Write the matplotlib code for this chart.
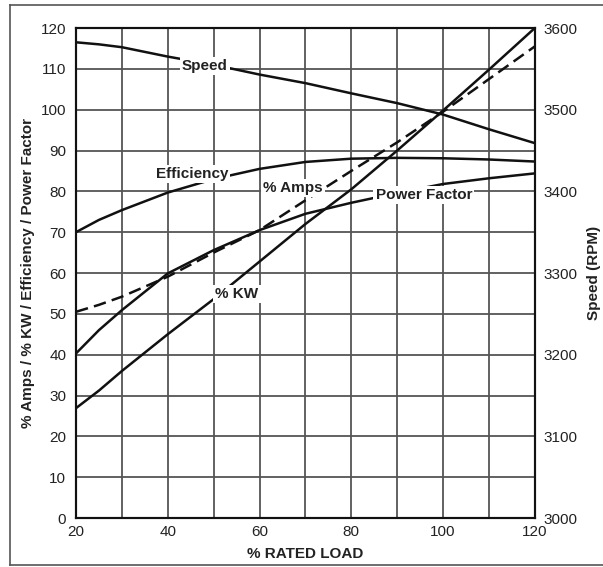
import matplotlib
matplotlib.use("Agg")
import matplotlib.pyplot as plt
from matplotlib.lines import Line2D

plt.rcParams["font.family"] = ["Liberation Sans", "DejaVu Sans"]

# % rated load
load = [20, 25, 30, 40, 50, 60, 70, 80, 90, 100, 110, 120]

# left axis curves (percent)
efficiency = [70, 73, 75.4, 79.7, 83, 85.5, 87.2, 88, 88.2, 88.1, 87.8, 87.3]
amps = [50.5, 52.2, 54.2, 59.1, 65, 70.5, 77.8, 85, 92, 99.5, 107.5, 115.5]
power_factor = [40.3, 46, 50.9, 59.9, 65.6, 70.5, 74.5, 77.2, 79.6, 81.8, 83.2, 84.4]
kw = [26.9, 31.2, 36, 45, 53.6, 62.8, 72, 80.5, 90, 99.8, 109.8, 120]

# right axis curve (RPM)
speed = [3582.5, 3580, 3576.5, 3565, 3555, 3543, 3532.5, 3520, 3508, 3494, 3476, 3459]

x_ticks = [20, 40, 60, 80, 100, 120]
left_ticks = list(range(0, 121, 10))
right_ticks = [3000, 3100, 3200, 3300, 3400, 3500, 3600]

fig = plt.figure(figsize=(6.03, 5.67), dpi=100)
ax = fig.add_axes([0.126, 0.0864, 0.761, 0.8642])

line_kw = dict(color="#111111", lw=1.8, zorder=3)
ax.plot(load, efficiency, **line_kw)
ax.plot(load, power_factor, **line_kw)
ax.plot(load, kw, **line_kw)
ax.plot(load, amps, ls=(0, (5, 2.5)), **line_kw)

ax.set_xlim(20, 120)
ax.set_ylim(0, 120)
ax.set_xticks(x_ticks)
ax.set_xticks(range(20, 121, 10), minor=True)
ax.set_yticks(left_ticks)
ax.grid(True, which="both", color="#555555", lw=1.3, zorder=1)
ax.set_axisbelow(True)
ax.tick_params(which="both", length=0, labelsize=11, colors="#222222")
ax.tick_params(axis="y", pad=7)
ax.tick_params(axis="x", pad=5)
for s in ax.spines.values():
    s.set_color("#111111")
    s.set_linewidth(1.5)

ax2 = ax.twinx()
ax2.plot(load, speed, **line_kw)
ax2.set_ylim(3000, 3600)
ax2.set_yticks(right_ticks)
ax2.tick_params(length=0, labelsize=11, colors="#222222", pad=6)
for s in ax2.spines.values():
    s.set_color("#111111")
    s.set_linewidth(1.5)

ax.set_xlabel("% RATED LOAD", fontsize=11, fontweight="bold", color="#222222", labelpad=6)
ax.set_ylabel("% Amps / % KW / Efficiency / Power Factor", fontsize=11,
              fontweight="bold", color="#222222", labelpad=4)
ax2.set_ylabel("Speed (RPM)", fontsize=11, fontweight="bold", color="#222222", labelpad=7)

# curve labels sit on the upper axes so the white box hides every line
box = dict(facecolor="white", edgecolor="none", pad=1.5)
labels = [
    ("Speed", 48.1, 110.7),
    ("Efficiency", 45.3, 84.3),
    ("% Amps", 67.3, 80.8),
    ("Power Factor", 95.8, 79.1),
    ("% KW", 55.1, 54.9),
]
for txt, lx, ly in labels:
    ax2.text(lx, ly, txt, transform=ax.transData, fontsize=11, fontweight="bold",
             color="#222222", ha="center", va="center", bbox=box, zorder=6)

# outer frame of the picture (right side is cut off)
fx0, fx1 = 10 / 603, 1.0
fy0, fy1 = 1 - 565 / 567, 1 - 5 / 567
for xs, ys in [([fx0, fx0], [fy0, fy1]), ([fx0, fx1], [fy1, fy1]), ([fx0, fx1], [fy0, fy0])]:
    fig.add_artist(Line2D(xs, ys, color="#555555", lw=1.2, transform=fig.transFigure))

fig.savefig("out.png", dpi=100)
